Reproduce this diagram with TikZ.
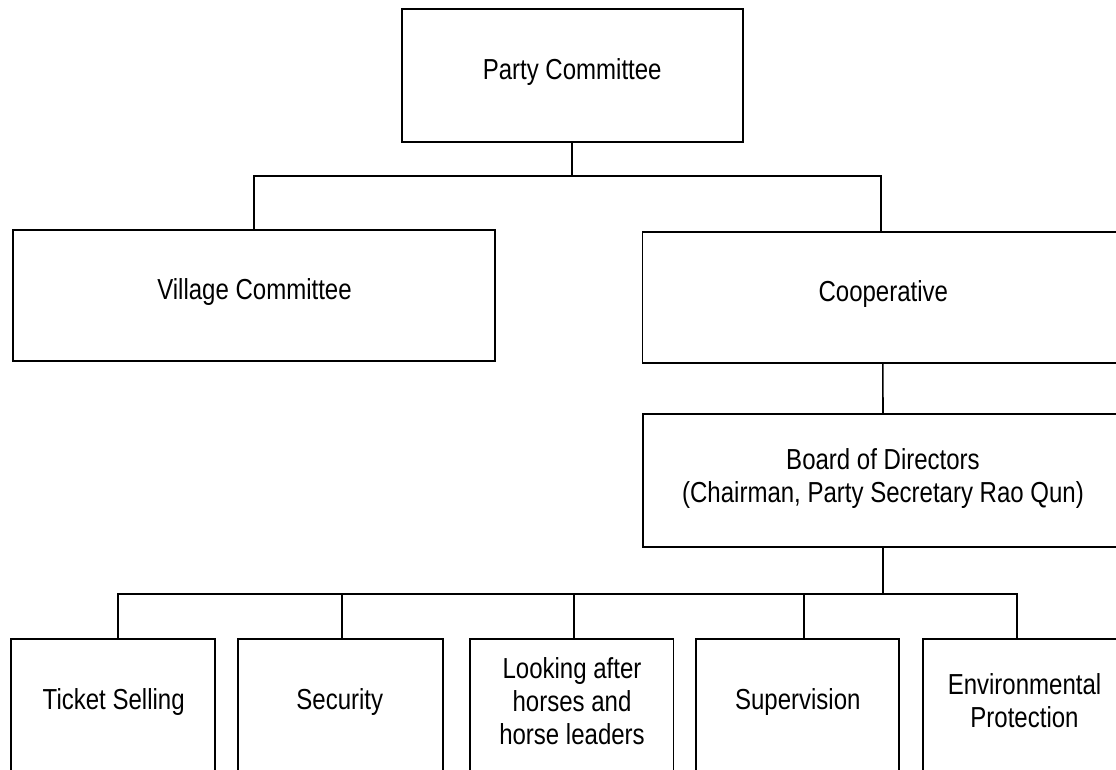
\documentclass[tikz,border=0pt]{standalone}
\usepackage{fontspec}
\setmainfont{Liberation Sans}[FakeStretch=0.83]
\begin{document}
\begin{tikzpicture}[x=0.75pt,y=-0.75pt,
  boxn/.style={draw=black, line width=1.3pt, inner sep=0pt, fill=white},
  txt/.style={inner sep=0pt, align=center, text=black, font=\fontsize{21.7pt}{24.8pt}\selectfont},
  conn/.style={draw=black, line width=1.2pt}]
\useasboundingbox (0,0) rectangle (1116,769);
\clip (0,0) rectangle (1116,769);
\fill[white] (0,0) rectangle (1116,769);
% boxes
\node[boxn, minimum width=255.75pt, minimum height=99.75pt] (party) at (572.2,75.8) {};
\node[boxn, minimum width=361.3pt, minimum height=98.25pt] (village) at (254.2,295.5) {};
\node[boxn, minimum width=360.4pt, minimum height=98.5pt] (coop) at (882.8,297.3) {};
\node[boxn, minimum width=360pt, minimum height=99.3pt] (board) at (883,480.5) {};
\node[boxn, minimum width=152.8pt, minimum height=99.2pt] (ticket) at (113.2,705.4) {};
\node[boxn, minimum width=153.5pt, minimum height=99.2pt] (security) at (340.3,705.4) {};
\node[boxn, minimum width=152.5pt, minimum height=99.2pt] (looking) at (571.7,705.4) {};
\node[boxn, minimum width=152.3pt, minimum height=99.2pt] (superv) at (797.2,705.4) {};
\node[boxn, minimum width=152.6pt, minimum height=99.2pt] (env) at (1024.5,705.4) {};
% labels
\node[txt] (partyT) at (572.2,72.5) {Party Committee};
\node[txt] (villageT) at (254.5,292.5) {Village Committee};
\node[txt] (coopT) at (883.3,294.5) {Cooperative};
\node[txt] (boardT) at (883,478.5) {Board of Directors\\(Chairman, Party Secretary Rao Qun)};
\node[txt] (ticketT) at (113.7,702.5) {Ticket Selling};
\node[txt] (securityT) at (339.8,702.5) {Security};
\node[txt] (lookingT) at (572,701.5) {Looking after\\horses and\\horse leaders};
\node[txt] (supervT) at (797.8,702) {Supervision};
\node[txt] (envT) at (1024.5,701) {Environmental\\Protection};
% connectors
\coordinate (bus1) at (572.3,175.7);
\coordinate (bus2) at (882.7,594);
\draw[conn] (party.south) -- (party.south |- bus1);
\draw[conn] (village.north) |- ([xshift=-1.35pt]coop.north |- bus1) -- ([xshift=-1.35pt]coop.north);
\draw[conn] (coop.south) -- (board.north);
\draw[conn] (board.south) -- (board.south |- bus2);
\draw[conn] ([xshift=3.8pt]ticket.north) |- ([xshift=-5.85pt]env.north |- bus2) -- ([xshift=-5.85pt]env.north);
\draw[conn] ([xshift=1.05pt]security.north) -- ([xshift=1.05pt]security.north |- bus2);
\draw[conn] ([xshift=1.7pt]looking.north) -- ([xshift=1.7pt]looking.north |- bus2);
\draw[conn] ([xshift=5.1pt]superv.north) -- ([xshift=5.1pt]superv.north |- bus2);
\end{tikzpicture}
\end{document}
